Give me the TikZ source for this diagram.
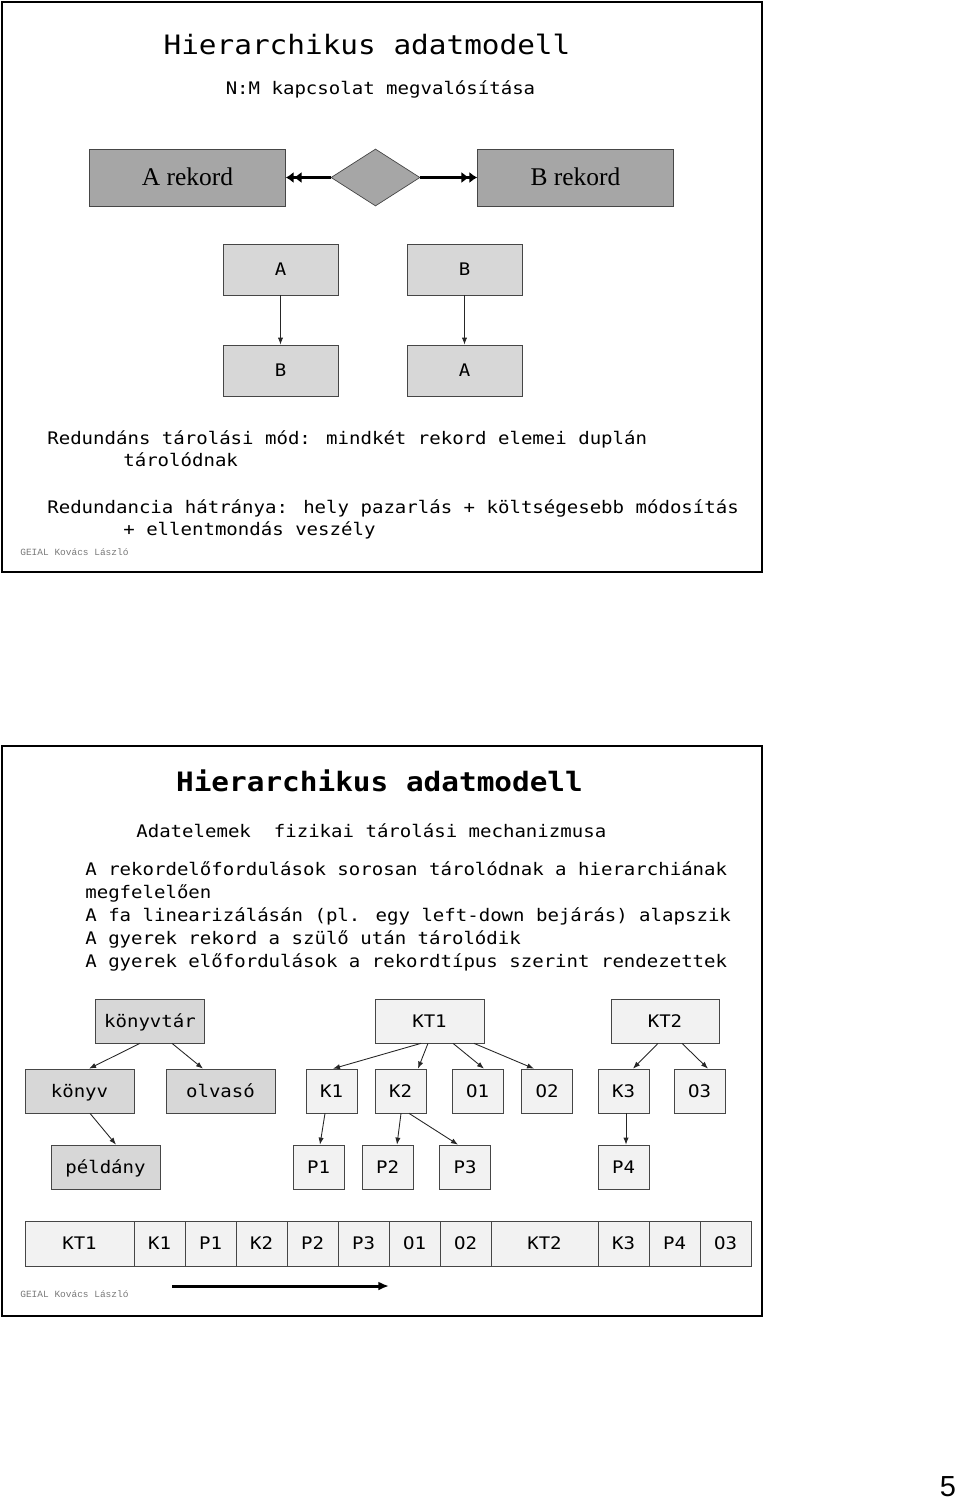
\documentclass[tikz,border=0pt]{standalone}
\usepackage{fontspec}
\newfontfamily\lucida[FakeStretch=1.1]{DejaVu Sans Mono}
\newfontfamily\timesbetu{Liberation Serif}
\newfontfamily\courbetu{Liberation Mono}
\newfontfamily\arialbetu{Liberation Sans}
\newcommand\torzs{\lucida\fontsize{9.85}{12}\selectfont}
\newcommand\cimbetu{\lucida\fontsize{15.2}{18}\selectfont}
\definecolor{diagszurke}{RGB}{166,166,166}
\definecolor{dobozszurke}{RGB}{215,215,215}
\definecolor{dobozfeher}{RGB}{242,242,242}
\definecolor{keretszin}{RGB}{70,70,70}
\definecolor{alairas}{RGB}{120,120,120}
\usetikzlibrary{arrows.meta, calc, shapes.geometric}

\tikzset{
  keret/.style={draw=black, line width=1.4pt},
  szoveg/.style={font=\torzs, inner sep=0pt, anchor=base west},
  cim/.style={font=\cimbetu, inner sep=0pt, anchor=base},
  nagydoboz/.style={draw=keretszin, fill=diagszurke, minimum width=3.92cm, minimum height=1.14cm,
    inner sep=0pt, text height=9.6pt, text depth=0pt, font=\timesbetu\fontsize{14.5}{16}\selectfont},
  rombusz/.style={diamond, draw=keretszin, fill=diagszurke, minimum width=1.78cm, minimum height=1.14cm, inner sep=0pt},
  dobozszoveg/.style={inner sep=0pt, text height=7.2pt, text depth=0pt, font=\torzs},
  kisdoboz/.style={dobozszoveg, draw=keretszin, fill=dobozszurke, minimum width=2.3cm, minimum height=1.02cm},
  fadoboz/.style={dobozszoveg, draw=keretszin, fill=dobozszurke, minimum width=2.18cm, minimum height=0.88cm},
  kisfa/.style={dobozszoveg, draw=keretszin, fill=dobozfeher, minimum width=1.02cm, minimum height=0.88cm},
  cella/.style={dobozszoveg, draw=keretszin, fill=dobozfeher, minimum height=0.9cm},
  vekonynyil/.style={draw=black!85, line width=0.5pt, -{Latex[length=4pt,width=3pt]}},
  duplanyil/.style={line width=1.7pt, -{Latex[length=4.5pt,width=6.5pt]Latex[length=4.5pt,width=6.5pt]}},
  vastagnyil/.style={line width=1.7pt, -{Latex[length=6pt,width=5pt]}},
  alairas/.style={font=\courbetu\fontsize{5.4}{6}\selectfont, text=alairas, inner sep=0pt, anchor=base west}
}

\begin{document}
\begin{tikzpicture}[x=0.02cm, y=-0.02cm]
\useasboundingbox (0,0) rectangle (960,1501);
% elso dia
\draw[keret] (2,2) rectangle (762,572);
\node[cim] (cim1) at (367,54.5) {Hierarchikus adatmodell};
\node[szoveg, anchor=base] (alcim1) at (380.5,94.5) {N:M kapcsolat megvalósítása};
\node[nagydoboz] (arek) at (187.5,177.5) {A rekord};
\node[nagydoboz] (brek) at (575.5,177.5) {B rekord};
\node[rombusz] (kapcs) at (375.5,177.5) {};
\draw[duplanyil] (kapcs.west) -- (arek.east);
\draw[duplanyil] (kapcs.east) -- (brek.west);
% redundans tarolas
\node[kisdoboz] (fa) at (280.5,269.5) {A};
\node[kisdoboz] (fb) at (464.5,269.5) {B};
\node[kisdoboz] (lb) at (280.5,370.5) {B};
\node[kisdoboz] (la) at (464.5,370.5) {A};
\draw[vekonynyil] (fa) -- (lb);
\draw[vekonynyil] (fb) -- (la);
\node[szoveg] (sor1) at (47,444) {Redundáns tárolási mód: mindkét rekord elemei duplán};
\node[szoveg] (sor2) at (123,466) {tárolódnak};
\node[szoveg] (sor3) at (47,513) {Redundancia hátránya: hely pazarlás + költségesebb módosítás};
\node[szoveg] (sor4) at (123,535) {+ ellentmondás veszély};
\node[alairas] (al1) at (20,555) {GEIAL Kovács László};
% masodik dia
\draw[keret] (2,746) rectangle (762,1316);
\node[cim, font=\cimbetu\bfseries] (cim2) at (379.5,791) {Hierarchikus adatmodell};
\node[szoveg] (alcim2) at (136,837) {Adatelemek\ \ fizikai tárolási mechanizmusa};
\node[szoveg] (pont1) at (85,875) {A rekordelőfordulások sorosan tárolódnak a hierarchiának};
\node[szoveg] (pont1b) at (85,898) {megfelelően};
\node[szoveg] (pont2) at (85,921) {A fa linearizálásán (pl. egy left-down bejárás) alapszik};
\node[szoveg] (pont3) at (85,944) {A gyerek rekord a szülő után tárolódik};
\node[szoveg] (pont4) at (85,967) {A gyerek előfordulások a rekordtípus szerint rendezettek};
% sema fa
\node[fadoboz] (konyvtar) at (150,1021) {könyvtár};
\node[fadoboz] (konyv) at (79.5,1091) {könyv};
\node[fadoboz] (olvaso) at (220.5,1091) {olvasó};
\node[fadoboz] (peldany) at (105.5,1167) {példány};
% elofordulas fa
\node[kisfa, minimum width=2.18cm] (kt1) at (429.5,1021) {KT1};
\node[kisfa, minimum width=2.16cm] (kt2) at (665,1021) {KT2};
\foreach \n/\t/\x in {k1/K1/331.5, k2/K2/400.5, o1/O1/477.5, o2/O2/547, k3/K3/623.5, o3/O3/699.5}
  \node[kisfa] (\n) at (\x,1091) {\t};
\foreach \n/\t/\x in {p1/P1/318.5, p2/P2/387.5, p3/P3/465, p4/P4/623.5}
  \node[kisfa] (\n) at (\x,1167) {\t};
\foreach \a/\da/\b/\db in {konyvtar/-10/konyv/9.5, konyvtar/22/olvaso/-17.5, konyv/10.5/peldany/10.5,
    kt1/-8.5/k1/1.5, kt1/-1.5/k2/17.5, kt1/23.5/o1/6.5, kt1/44.5/o2/-13,
    kt2/-7/k3/9.5, kt2/17/o3/8.5, k1/-6.5/p1/1.5, k2/0.5/p2/9.5, k2/8.5/p3/-7, k3/2.5/p4/2.5}
  \draw[vekonynyil] ($(\a.south)+(\da,0)$) -- ($(\b.north)+(\db,0)$);
% linearizalt sor
\foreach \n/\t/\xa/\xb in {s1/KT1/25/134, s2/K1/134/185, s3/P1/185/236, s4/K2/236/287, s5/P2/287/338,
    s6/P3/338/389, s7/O1/389/440, s8/O2/440/491, s9/KT2/491/598, s10/K3/598/649, s11/P4/649/700, s12/O3/700/751}
  \node[cella, minimum width={(\xb-\xa)*0.02cm}] (\n) at ({(\xa+\xb)/2},1243.5) {\t};
\coordinate (irany1) at (172,1286);
\coordinate (irany2) at (389,1286);
\draw[vastagnyil] (irany1) -- (irany2);
\node[alairas] (al2) at (20,1297) {GEIAL Kovács László};
% oldalszam
\node[font=\arialbetu\fontsize{16.5}{18}\selectfont, inner sep=0pt, anchor=base] (oldal) at (948,1496) {5};
\end{tikzpicture}
\end{document}
